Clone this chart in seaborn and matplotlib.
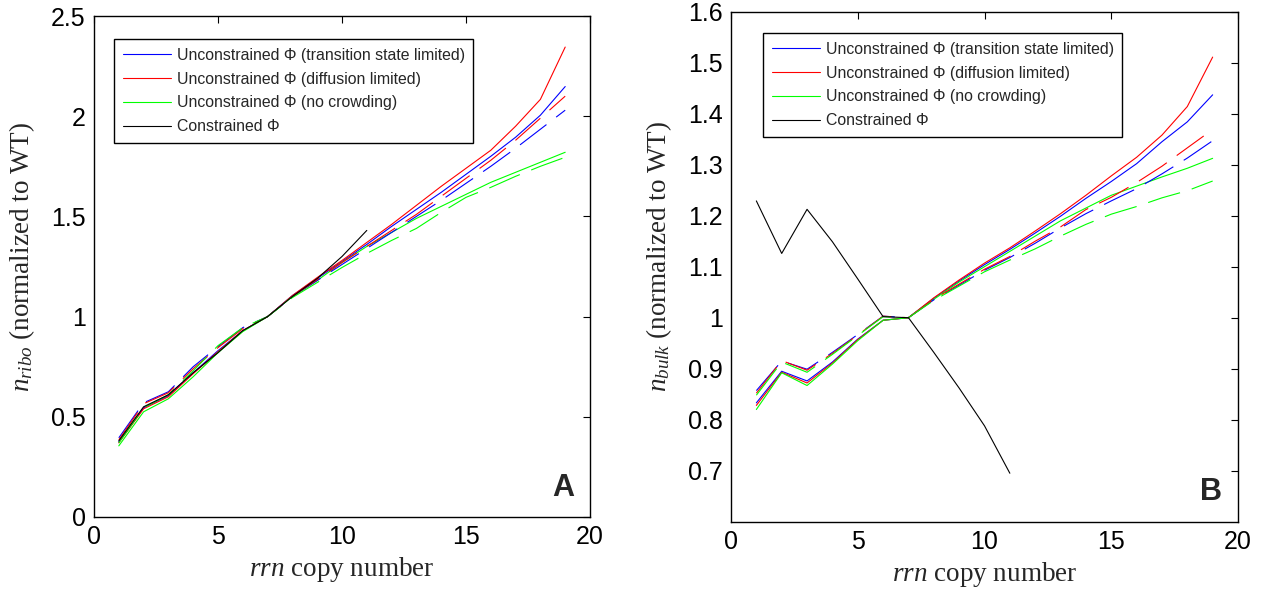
import numpy as np
import pandas as pd
import matplotlib
matplotlib.use("Agg")
import matplotlib.pyplot as plt
import seaborn as sns
from matplotlib.lines import Line2D

# rrn copy numbers
copies = list(range(1, 20))
copies_constrained = list(range(1, 12))

# Panel A: ribosome number (normalized to WT)
ribo_ts_solid = [0.375, 0.545, 0.605, 0.72, 0.83, 0.93, 1.0, 1.105, 1.19, 1.275,
                 1.36, 1.45, 1.535, 1.62, 1.71, 1.80, 1.895, 2.005, 2.148]
ribo_diff_solid = [0.37, 0.54, 0.60, 0.715, 0.825, 0.93, 1.0, 1.105, 1.195, 1.28,
                   1.37, 1.46, 1.555, 1.65, 1.74, 1.83, 1.95, 2.084, 2.345]
ribo_nocrowd_solid = [0.355, 0.525, 0.59, 0.70, 0.82, 0.925, 1.0, 1.10, 1.18, 1.27,
                      1.35, 1.42, 1.49, 1.55, 1.61, 1.67, 1.72, 1.77, 1.82]
ribo_ts_dashed = [0.395, 0.57, 0.625, 0.75, 0.85, 0.945, 1.0, 1.10, 1.18, 1.26,
                  1.34, 1.42, 1.50, 1.58, 1.665, 1.75, 1.84, 1.935, 2.03]
ribo_diff_dashed = [0.385, 0.565, 0.62, 0.74, 0.845, 0.94, 1.0, 1.10, 1.185, 1.27,
                    1.35, 1.43, 1.51, 1.60, 1.69, 1.78, 1.88, 1.99, 2.10]
ribo_nocrowd_dashed = [0.37, 0.545, 0.61, 0.73, 0.855, 0.945, 1.0, 1.095, 1.17, 1.245,
                       1.315, 1.38, 1.44, 1.52, 1.595, 1.645, 1.70, 1.75, 1.795]
ribo_constrained = [0.38, 0.55, 0.61, 0.72, 0.82, 0.93, 1.0, 1.10, 1.19, 1.30, 1.43]

# Panel B: bulk protein number (normalized to WT)
bulk_ts_solid = [0.833, 0.895, 0.876, 0.913, 0.958, 0.995, 1.0, 1.038, 1.072, 1.104,
                 1.134, 1.166, 1.199, 1.234, 1.267, 1.302, 1.345, 1.384, 1.437]
bulk_diff_solid = [0.828, 0.893, 0.872, 0.911, 0.957, 0.995, 1.0, 1.039, 1.074, 1.107,
                   1.137, 1.170, 1.204, 1.240, 1.278, 1.3145, 1.358, 1.414, 1.511]
bulk_nocrowd_solid = [0.820, 0.892, 0.867, 0.909, 0.955, 0.995, 1.0, 1.036, 1.07, 1.10,
                      1.130, 1.160, 1.190, 1.215, 1.240, 1.258, 1.276, 1.293, 1.3125]
bulk_ts_dashed = [0.857, 0.915, 0.899, 0.932, 0.967, 1.003, 1.0, 1.035, 1.064, 1.093,
                  1.118, 1.146, 1.176, 1.204, 1.229, 1.253, 1.282, 1.313, 1.347]
bulk_diff_dashed = [0.852, 0.916, 0.897, 0.930, 0.966, 1.003, 1.0, 1.036, 1.066, 1.095,
                    1.120, 1.150, 1.178, 1.212, 1.236, 1.265, 1.297, 1.333, 1.369]
bulk_nocrowd_dashed = [0.848, 0.913, 0.893, 0.928, 0.965, 1.002, 1.0, 1.034, 1.062, 1.090,
                       1.113, 1.135, 1.160, 1.183, 1.203, 1.218, 1.235, 1.249, 1.268]
bulk_constrained = [1.229, 1.126, 1.2125, 1.149, 1.076, 1.002, 1.0, 0.932, 0.862, 0.788, 0.695]

legend_labels = [
    "Unconstrained \u03a6 (transition state limited)",
    "Unconstrained \u03a6 (diffusion limited)",
    "Unconstrained \u03a6 (no crowding)",
    "Constrained \u03a6",
]

sns.set_style("white")
plt.rcParams["font.family"] = ["Liberation Sans", "DejaVu Sans"]
plt.rcParams["mathtext.fontset"] = "custom"
plt.rcParams["mathtext.rm"] = "Liberation Serif"
plt.rcParams["mathtext.it"] = "Liberation Serif:italic"

BLUE, RED, GREEN = (0, 0, 1), (1, 0, 0), (0, 1, 0)
DASH = (0, (30, 11))
LW = 0.8

fig = plt.figure(figsize=(12.66, 5.94), dpi=100)
axA = fig.add_axes([94 / 1266, 1 - 517 / 594, 496 / 1266, 501 / 594])
axB = fig.add_axes([731 / 1266, 1 - 521.7 / 594, 507 / 1266, 510 / 594])


def draw_panel(ax, ts_s, diff_s, nc_s, ts_d, diff_d, nc_d, constrained):
    series = [
        (ts_s, BLUE, "-"), (diff_s, RED, "-"), (nc_s, GREEN, "-"),
        (ts_d, BLUE, DASH), (diff_d, RED, DASH), (nc_d, GREEN, DASH),
    ]
    for vals, color, ls in series:
        df = pd.DataFrame({"copies": copies, "value": vals})
        sns.lineplot(data=df, x="copies", y="value", ax=ax, color=color,
                     linewidth=LW, linestyle=ls, estimator=None, sort=False)
    dfc = pd.DataFrame({"copies": copies_constrained, "value": constrained})
    sns.lineplot(data=dfc, x="copies", y="value", ax=ax, color="black",
                 linewidth=LW, estimator=None, sort=False)


draw_panel(axA, ribo_ts_solid, ribo_diff_solid, ribo_nocrowd_solid,
           ribo_ts_dashed, ribo_diff_dashed, ribo_nocrowd_dashed, ribo_constrained)
draw_panel(axB, bulk_ts_solid, bulk_diff_solid, bulk_nocrowd_solid,
           bulk_ts_dashed, bulk_diff_dashed, bulk_nocrowd_dashed, bulk_constrained)

axA.set_xlim(0, 20)
axA.set_ylim(0, 2.5)
axA.set_xticks([0, 5, 10, 15, 20])
axA.set_yticks([0, 0.5, 1, 1.5, 2, 2.5])
axA.set_yticklabels(["0", "0.5", "1", "1.5", "2", "2.5"])

axB.set_xlim(0, 20)
axB.set_ylim(0.6, 1.6)
axB.set_xticks([0, 5, 10, 15, 20])
yt = [0.7, 0.8, 0.9, 1.0, 1.1, 1.2, 1.3, 1.4, 1.5, 1.6]
axB.set_yticks(yt)
axB.set_yticklabels(["0.7", "0.8", "0.9", "1", "1.1", "1.2", "1.3", "1.4", "1.5", "1.6"])

handles = [Line2D([], [], color=c, lw=LW) for c in (BLUE, RED, GREEN, "black")]

for ax, ylab, tag, leg_anchor, ylab_y in (
    (axA, r"$n_{ribo}$ (normalized to WT)", "A", ((114 - 94) / 496, (517 - 39) / 501), 0.52),
    (axB, r"$n_{bulk}$ (normalized to WT)", "B", ((763 - 731) / 507, (521.7 - 33) / 510), 0.52),
):
    for side in ("top", "right", "left", "bottom"):
        ax.spines[side].set_visible(True)
        ax.spines[side].set_color("black")
        ax.spines[side].set_linewidth(1.0)
    ax.tick_params(direction="in", length=5, width=0.8, top=True, right=True,
                   labelsize=18, pad=6, colors="black")
    ax.set_xlabel(r"$rrn$ copy number", fontsize=19.5, family="Liberation Serif")
    ax.set_ylabel(ylab, fontsize=19.5, family="Liberation Serif")
    ax.yaxis.set_label_coords(-0.115 if ax is axA else -0.113, ylab_y)
    leg = ax.legend(handles, legend_labels, loc="upper left", bbox_to_anchor=leg_anchor,
                    fontsize=11.4, frameon=True, fancybox=False, edgecolor="black",
                    framealpha=1, handlelength=3.05, handletextpad=0.35,
                    labelspacing=0.56, borderpad=0.55, borderaxespad=0)
    leg.get_frame().set_linewidth(1.0)
    ax.text(0.946, 0.058, tag, transform=ax.transAxes, fontsize=22,
            fontweight="bold", ha="center", va="center")

fig.savefig("out.png", dpi=100)
